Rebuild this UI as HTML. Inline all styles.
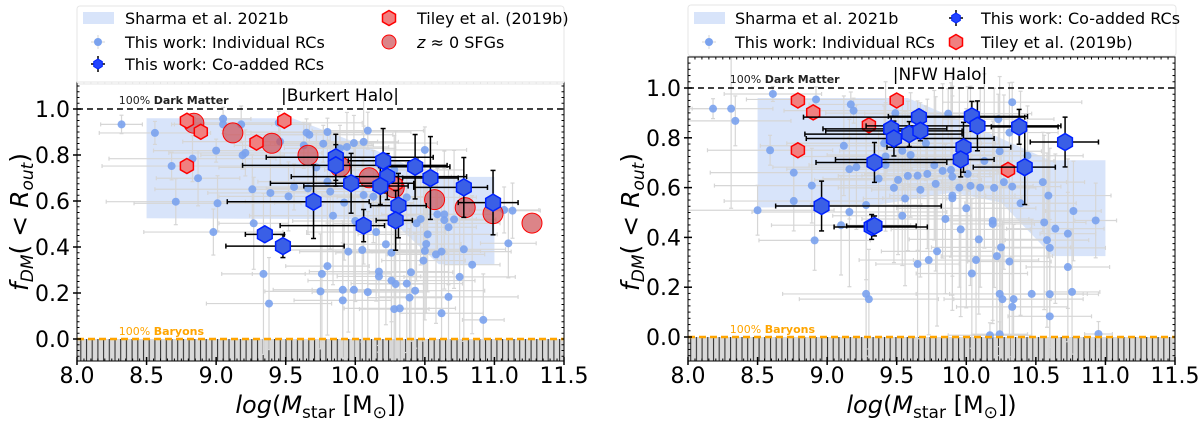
<!DOCTYPE html>
<html><head><meta charset="utf-8"><style>
html,body{margin:0;padding:0;background:#fff}
svg{display:block}
text{font-family:"DejaVu Sans","Liberation Sans",sans-serif}
</style></head><body>
<svg id="chart" width="1200" height="424" viewBox="0 0 1200 424" xmlns="http://www.w3.org/2000/svg">
<defs>
<pattern id="hatch" patternUnits="userSpaceOnUse" width="5.7" height="10"><rect width="5.7" height="10" fill="#d9d9d9"/><line x1="1" y1="0" x2="1" y2="10" stroke="#333" stroke-width="1.1"/></pattern>
<clipPath id="clipL"><rect x="77" y="82" width="487" height="280"/></clipPath>
<clipPath id="clipR"><rect x="688" y="57" width="488" height="305"/></clipPath>
</defs>
</svg>
<script>
// ---------- LEFT PANEL (Burkert) DATA ----------
const xTickLabels=["8.0","8.5","9.0","9.5","10.0","10.5","11.0","11.5"];
const yTickLabels=["0.0","0.2","0.4","0.6","0.8","1.0"];
const bandLX=[8.5,9.55,10.15,10.55,11.0,11.0,10.6,10.25,8.5];
const bandLY=[0.96,0.96,0.82,0.705,0.705,0.325,0.325,0.52,0.525];
const indLX=[8.32,8.56,8.68,8.83,8.87,8.71,9.00,9.05,9.05,9.18,9.19,9.21,9.26,9.01,8.98,9.27,9.39,9.52,9.56,9.65,9.67,9.63,9.77,9.80,9.72,9.66,9.80,9.82,9.89,9.94,9.99,10.06,10.09,9.92,9.84,10.0,10.06,10.13,10.15,10.22,10.26,10.05,9.95,9.80,9.76,9.34,9.75,9.91,9.91,9.99,10.09,9.38,10.17,10.17,10.26,10.29,10.37,10.40,10.43,10.39,10.28,10.32,10.62,10.67,10.75,10.84,10.92,11.10,10.78,10.58,10.62,10.50,10.49,10.51,10.52,10.59,10.64,10.67,10.71,10.64,10.47,10.44,10.37,10.50,11.07,11.13,10.28,10.29,9.46,9.45];
const indLY=[0.933,0.896,0.752,0.784,0.699,0.597,0.819,0.957,0.933,0.933,0.799,0.809,0.651,0.590,0.465,0.503,0.635,0.620,0.661,0.897,0.888,0.842,0.849,0.900,0.746,0.655,0.684,0.641,0.829,0.835,0.852,0.857,0.906,0.593,0.536,0.513,0.626,0.619,0.465,0.412,0.375,0.387,0.380,0.317,0.283,0.283,0.207,0.214,0.168,0.214,0.204,0.154,0.293,0.272,0.254,0.239,0.241,0.290,0.210,0.180,0.130,0.133,0.112,0.183,0.270,0.323,0.083,0.416,0.390,0.368,0.380,0.383,0.341,0.413,0.455,0.542,0.517,0.486,0.520,0.542,0.522,0.503,0.616,0.822,0.561,0.558,0.735,0.706,0.858,0.940];
const indLXerr=[0.15,0.4,0.5,0.6,0.3,0.5,0.45,0.2,0.35,0.5,0.3,0.55,0.7,0.6,0.5,0.25,0.45,0.5,0.3,0.4,0.6,0.5,0.35,0.6,0.7,0.3,0.5,0.45,0.4,0.3,0.6,0.25,0.4,0.5,0.6,0.45,0.3,0.4,0.5,0.3,0.4,0.6,0.35,0.3,0.5,0.3,0.4,0.5,0.35,0.3,0.4,0.45,0.5,0.3,0.6,0.2,0.4,0.3,0.5,0.3,0.25,0.4,0.3,0.5,0.4,0.2,0.15,0.2,0.3,0.35,0.5,0.4,0.3,0.25,0.5,0.4,0.3,0.2,0.3,0.35,0.4,0.6,0.5,0.3,0.25,0.2,0.5,0.4,0.7,0.6];
const indLYerr=[0.04,0.05,0.06,0.1,0.12,0.1,0.05,0.05,0.04,0.08,0.06,0.1,0.15,0.12,0.1,0.2,0.18,0.15,0.1,0.06,0.05,0.1,0.08,0.06,0.15,0.2,0.18,0.25,0.1,0.15,0.12,0.2,0.08,0.25,0.3,0.35,0.3,0.2,0.3,0.35,0.3,0.4,0.35,0.3,0.3,0.35,0.25,0.3,0.25,0.4,0.35,0.2,0.35,0.3,0.4,0.35,0.3,0.3,0.25,0.3,0.4,0.35,0.3,0.3,0.4,0.3,0.2,0.15,0.4,0.3,0.25,0.3,0.35,0.3,0.25,0.2,0.3,0.25,0.3,0.2,0.2,0.25,0.15,0.1,0.1,0.12,0.15,0.2,0.1,0.05];
const coLX=[9.35,9.48,9.70,9.86,9.86,9.97,10.06,10.20,10.23,10.18,10.31,10.29,10.43,10.54,10.78,10.99];
const coLY=[0.455,0.404,0.597,0.790,0.755,0.677,0.493,0.775,0.706,0.665,0.580,0.516,0.749,0.700,0.659,0.593];
const coLXlo=[0.14,0.41,0.62,0.5,0.67,0.58,0.6,0.25,0.69,0.55,0.2,0.14,0.2,0.2,0.36,0.25];
const coLXhi=[0.14,0.44,0.4,0.7,0.8,0.45,0.15,0.25,0.57,0.2,0.2,0.12,0.25,0.2,0.17,0.18];
const coLYerr=[0.03,0.05,0.16,0.1,0.09,0.13,0.07,0.14,0.1,0.08,0.14,0.13,0.14,0.18,0.13,0.14];
const tilLX=[8.79,8.89,9.29,9.49,8.79,10.29];
const tilLY=[0.949,0.901,0.854,0.949,0.752,0.674];
const sfgX=[8.84,9.12,9.40,9.66,9.89,10.10,10.28,10.57,10.79,10.99,11.27];
const sfgY=[0.938,0.896,0.851,0.799,0.749,0.701,0.658,0.606,0.571,0.545,0.504];
// ---------- RIGHT PANEL (NFW) DATA ----------
const bandRX=[8.5,9.58,10.0,10.6,11.0,11.0,10.62,10.25,9.9,9.3,8.5];
const bandRY=[0.96,0.96,0.86,0.71,0.71,0.325,0.325,0.54,0.58,0.525,0.52];
const indRX=[8.18,8.31,8.34,8.61,8.92,8.59,8.76,8.76,8.50,8.89,8.91,9.12,9.17,9.19,9.16,9.21,9.16,9.10,9.28,9.28,9.30,9.37,9.42,9.42,9.41,9.49,9.48,9.51,9.54,9.56,9.58,9.60,9.65,9.67,9.71,9.72,9.78,9.77,9.83,9.87,9.89,9.90,9.90,9.90,9.95,10.01,10.00,10.03,10.10,10.13,10.23,10.24,10.31,10.33,10.44,10.27,10.20,10.33,10.39,10.55,10.59,10.77,10.93,10.56,10.64,10.58,10.60,10.73,10.73,10.76,10.60,10.60,10.47,10.34,10.33,10.26,10.24,10.31,10.22,10.25,10.19,10.19,10.09,10.07,10.04,9.96,9.85,9.79,9.73,9.65,9.54,10.17,10.24,10.95];
const indRY=[0.917,0.917,0.868,0.976,0.954,0.750,0.660,0.546,0.509,0.608,0.388,0.768,0.934,0.909,0.674,0.682,0.502,0.449,0.530,0.173,0.152,0.636,0.691,0.725,0.778,0.899,0.599,0.631,0.748,0.556,0.647,0.731,0.648,0.591,0.778,0.655,0.615,0.690,0.667,0.897,0.671,0.644,0.568,0.557,0.600,0.655,0.517,0.607,0.600,0.707,0.875,0.746,0.821,0.943,0.728,0.622,0.599,0.604,0.537,0.622,0.568,0.506,0.468,0.460,0.435,0.389,0.358,0.415,0.281,0.181,0.172,0.083,0.173,0.152,0.121,0.152,0.173,0.303,0.325,0.360,0.467,0.454,0.392,0.309,0.255,0.432,0.474,0.344,0.309,0.293,0.487,0.007,0.011,0.012];
const indRXerr=[0.15,0.3,0.4,0.35,0.5,0.45,0.6,0.5,0.55,0.7,0.4,0.6,0.3,0.5,0.45,0.6,0.7,0.5,0.4,0.6,0.5,0.4,0.55,0.6,0.7,0.5,0.4,0.6,0.45,0.3,0.5,0.6,0.4,0.35,0.5,0.45,0.3,0.5,0.4,0.6,0.35,0.3,0.45,0.5,0.4,0.3,0.5,0.45,0.35,0.5,0.4,0.3,0.35,0.5,0.4,0.45,0.3,0.35,0.4,0.3,0.45,0.2,0.15,0.3,0.35,0.3,0.4,0.2,0.3,0.2,0.35,0.3,0.4,0.5,0.4,0.35,0.6,0.3,0.4,0.5,0.35,0.3,0.5,0.45,0.4,0.5,0.6,0.4,0.5,0.3,0.5,0.3,0.2,0.1];
const indRYerr=[0.04,0.4,0.1,0.03,0.05,0.06,0.1,0.12,0.1,0.15,0.12,0.2,0.05,0.05,0.2,0.25,0.3,0.2,0.3,0.25,0.2,0.2,0.25,0.3,0.15,0.05,0.3,0.3,0.2,0.35,0.3,0.25,0.3,0.35,0.15,0.3,0.35,0.3,0.35,0.1,0.35,0.4,0.4,0.45,0.4,0.35,0.4,0.4,0.4,0.35,0.1,0.3,0.2,0.08,0.2,0.35,0.4,0.35,0.45,0.2,0.25,0.2,0.15,0.35,0.3,0.35,0.4,0.3,0.3,0.25,0.3,0.2,0.3,0.3,0.2,0.3,0.3,0.4,0.4,0.4,0.4,0.4,0.3,0.3,0.3,0.35,0.3,0.3,0.3,0.3,0.2,0.05,0.05,0.05];
const coRX=[9.66,10.04,10.08,10.38,10.71,9.46,9.48,9.59,9.67,9.98,9.96,9.34,10.42,8.96,9.32,9.34];
const coRY=[0.883,0.886,0.848,0.844,0.783,0.836,0.797,0.815,0.828,0.762,0.713,0.701,0.682,0.526,0.442,0.446];
const coRXlo=[0.83,0.6,0.8,0.2,0.25,0.49,0.63,0.75,0.68,0.55,0.9,0.42,0.37,0.33,0.27,0.2];
const coRXhi=[0.76,0.4,0.6,0.28,0.24,0.4,0.72,0.38,0.3,0.34,0.24,0.52,0.22,0.86,0.4,0.3];
const coRYerr=[0.03,0.06,0.1,0.07,0.1,0.05,0.07,0.05,0.04,0.1,0.07,0.08,0.15,0.1,0.05,0.04];
const tilRX=[8.79,8.90,9.50,9.30,8.79,10.30];
const tilRY=[0.950,0.902,0.950,0.850,0.750,0.671];

const NS="http://www.w3.org/2000/svg";
const svg=document.getElementById('chart');
function mk(tag,attrs,parent){const e=document.createElementNS(NS,tag);for(const k in attrs)e.setAttribute(k,attrs[k]);(parent||svg).appendChild(e);return e;}
function hexPts(cx,cy,r){let p=[];for(let i=0;i<6;i++){const a=Math.PI/180*(60*i-90);p.push((cx+r*Math.cos(a)).toFixed(1)+','+(cy+r*Math.sin(a)).toFixed(1));}return p.join(' ');}

function panel(P){
  const sx=v=>P.x0+(v-8)/3.5*(P.x1-P.x0);
  const sy=v=>P.yZero-v*(P.yZero-P.yOne);
  const g=mk('g',{});
  
  
  const pg=mk('g',{'clip-path':'url(#'+P.clip+')'},g);
  // hatched baryon region
  const h=mk('rect',{x:P.x0,y:sy(0),width:P.x1-P.x0,height:P.bot-sy(0),fill:'url(#hatch)'},pg);
  
  
  // band
  const band=mk('polygon',{points:P.bx.map((v,i)=>sx(v)+','+sy(P.by[i])).join(' '),fill:'rgba(100,149,237,0.25)'},pg);
  
  
  // individual error bars
  const ie=mk('g',{stroke:'#d6d6d6','stroke-width':1.2},pg);
  P.ix.forEach((v,i)=>{
    const x=sx(v),y=sy(P.iy[i]),xl=sx(v-P.ixe[i]),xh=sx(v+P.ixe[i]),yl=sy(P.iy[i]-P.iye[i]),yh=sy(P.iy[i]+P.iye[i]);
    mk('line',{x1:xl,y1:y,x2:xh,y2:y},ie);mk('line',{x1:x,y1:yl,x2:x,y2:yh},ie);
    mk('line',{x1:xl,y1:y-2,x2:xl,y2:y+2},ie);mk('line',{x1:xh,y1:y-2,x2:xh,y2:y+2},ie);
    mk('line',{x1:x-2,y1:yl,x2:x+2,y2:yl},ie);mk('line',{x1:x-2,y1:yh,x2:x+2,y2:yh},ie);
  });
  P.ix.forEach((v,i)=>{
    const c=mk('circle',{cx:sx(v),cy:sy(P.iy[i]),r:4,fill:'#7aa2ee','fill-opacity':0.9},pg);
    
    
  });
  // lines
  const dm=mk('line',{x1:P.x0,y1:sy(1),x2:P.x1,y2:sy(1),stroke:'#000','stroke-width':1.6,'stroke-dasharray':'6,4'},g);
  
  
  // sfg circles
  if(P.sx){P.sx.forEach((v,i)=>{
    const c=mk('circle',{cx:sx(v),cy:sy(P.sy[i]),r:10,fill:'rgba(205,80,85,0.7)',stroke:'#f00','stroke-width':1},pg);
    
    
  });}
  // tiley hexes
  P.tx.forEach((v,i)=>{
    const c=mk('polygon',{points:hexPts(sx(v),sy(P.ty[i]),7.5),fill:'#f08080',stroke:'#f00','stroke-width':1.5},pg);
    
    
  });
  // coadded
  const ce=mk('g',{stroke:'#000','stroke-width':1.5},pg);
  P.cx.forEach((v,i)=>{
    const x=sx(v),y=sy(P.cy[i]),xl=sx(v-P.cxl[i]),xh=sx(v+P.cxh[i]),yl=sy(P.cy[i]-P.cye[i]),yh=sy(P.cy[i]+P.cye[i]);
    mk('line',{x1:xl,y1:y,x2:xh,y2:y},ce);mk('line',{x1:x,y1:yl,x2:x,y2:yh},ce);
    mk('line',{x1:xl,y1:y-2.5,x2:xl,y2:y+2.5},ce);mk('line',{x1:xh,y1:y-2.5,x2:xh,y2:y+2.5},ce);
    mk('line',{x1:x-2.5,y1:yl,x2:x+2.5,y2:yl},ce);mk('line',{x1:x-2.5,y1:yh,x2:x+2.5,y2:yh},ce);
  });
  P.cx.forEach((v,i)=>{
    const c=mk('polygon',{points:hexPts(sx(v),sy(P.cy[i]),8.5),fill:'#3a5fe6',stroke:'#0022ff','stroke-width':1.5},pg);
    
    
  });
  const bl=mk('line',{x1:P.x0,y1:sy(0),x2:P.x1,y2:sy(0),stroke:'#ffa500','stroke-width':2.5,'stroke-dasharray':'7,4'},g);
  
  
  // frame
  mk('rect',{x:P.x0,y:P.top,width:P.x1-P.x0,height:P.bot-P.top,fill:'none',stroke:'#000','stroke-width':1},g);
  // ticks
  const tg=mk('g',{stroke:'#000','stroke-width':1},g);
  for(let k=0;k<=70;k++){const v=8+k*0.05,x=sx(v);mk('line',{x1:x,y1:P.bot,x2:x,y2:P.bot-2.5},tg);mk('line',{x1:x,y1:P.top,x2:x,y2:P.top+2.5},tg);}
  for(let k=-4;k<=46;k++){const v=k*0.025,y=sy(v);if(y<P.top||y>P.bot)continue;mk('line',{x1:P.x0,y1:y,x2:P.x0+2.5,y2:y},tg);mk('line',{x1:P.x1,y1:y,x2:P.x1-2.5,y2:y},tg);}
  xTickLabels.forEach((l,i)=>{const x=sx(parseFloat(l));mk('line',{x1:x,y1:P.bot-4,x2:x,y2:P.bot+4,'stroke-width':1.5},tg);
    const t=mk('text',{x:x,y:383,'text-anchor':'middle','font-size':22,fill:'#000'},g);t.textContent=l;
    });
  yTickLabels.forEach(l=>{const y=sy(parseFloat(l));mk('line',{x1:P.x0-4,y1:y,x2:P.x0+4,y2:y,'stroke-width':1.5},tg);
    const t=mk('text',{x:P.x0-7,y:y+8,'text-anchor':'end','font-size':22,fill:'#000'},g);t.textContent=l;
    });
  // annotations
  const a1=mk('text',{x:sx(8.3),y:sy(1)-5,'font-size':11,fill:'#222'},g);
  a1.innerHTML='100% <tspan font-weight="bold">Dark Matter</tspan>';
  
  const a2=mk('text',{x:sx(8.3),y:sy(0)-4,'font-size':11,fill:'#ffa500'},g);
  a2.innerHTML='100% <tspan font-weight="bold">Baryons</tspan>';
  
  const tt=mk('text',{x:P.titleX,y:sy(1)-8,'text-anchor':'middle','font-size':17,fill:'#000'},g);
  tt.textContent=P.title;
  const xt=mk('text',{x:(P.x0+P.x1)/2,y:413,'text-anchor':'middle','font-size':24,fill:'#000'},g);
  xt.innerHTML='<tspan font-style="italic">log</tspan>(<tspan font-style="italic">M</tspan><tspan font-size="17" dy="5">star</tspan><tspan dy="-5"> [M</tspan><tspan font-size="17" dy="5">⊙</tspan><tspan dy="-5">])</tspan>';
  
  const yt=mk('text',{x:0,y:0,'text-anchor':'middle','font-size':25,fill:'#000',transform:'translate('+(P.x0-49)+',222) rotate(-90)'},g);
  yt.innerHTML='<tspan font-style="italic">f</tspan><tspan font-style="italic" font-size="17" dy="5">DM</tspan><tspan dy="-5">( &lt; </tspan><tspan font-style="italic">R</tspan><tspan font-style="italic" font-size="17" dy="5">out</tspan><tspan dy="-5">)</tspan>';
  
}
panel({name:'burkert',clip:'clipL',x0:77,x1:564,yZero:339,yOne:109,top:82,bot:361,titleX:340,title:'|Burkert Halo|',
  bx:bandLX,by:bandLY,ix:indLX,iy:indLY,ixe:indLXerr,iye:indLYerr,cx:coLX,cy:coLY,cxl:coLXlo,cxh:coLXhi,cye:coLYerr,tx:tilLX,ty:tilLY,sx:sfgX,sy:sfgY});
panel({name:'nfw',clip:'clipR',x0:688,x1:1175,yZero:337,yOne:88,top:57,bot:361,titleX:940,title:'|NFW Halo|',
  bx:bandRX,by:bandRY,ix:indRX,iy:indRY,ixe:indRXerr,iye:indRYerr,cx:coRX,cy:coRY,cxl:coRXlo,cxh:coRXhi,cye:coRYerr,tx:tilRX,ty:tilRY});

// legends
function legend(name,box,items){
  const g=mk('g',{});
  
  
  mk('rect',{x:box[0],y:box[1],width:box[2],height:box[3],fill:'#fff','fill-opacity':0.9,stroke:'#e6e6e6',rx:3},g);
  items.forEach(it=>{
    const [type,mx,tx,yb,label]=it;const cy=yb-6;
    if(type==='band')mk('rect',{x:mx-15,y:cy-6,width:31,height:12,fill:'rgba(100,149,237,0.25)'},g);
    if(type==='ind'){mk('line',{x1:mx-7,y1:cy,x2:mx+7,y2:cy,stroke:'#d6d6d6'},g);mk('line',{x1:mx,y1:cy-7,x2:mx,y2:cy+7,stroke:'#d6d6d6'},g);mk('circle',{cx:mx,cy:cy,r:4,fill:'#7aa2ee'},g);}
    if(type==='co'){mk('line',{x1:mx-7,y1:cy,x2:mx+7,y2:cy,stroke:'#000','stroke-width':1.5},g);mk('line',{x1:mx,y1:cy-8,x2:mx,y2:cy+8,stroke:'#000','stroke-width':1.5},g);mk('polygon',{points:hexPts(mx,cy,5),fill:'#2244ff',stroke:'#0022ff'},g);}
    if(type==='til')mk('polygon',{points:hexPts(mx,cy,7.5),fill:'#f08080',stroke:'#f00','stroke-width':1.5},g);
    if(type==='sfg')mk('circle',{cx:mx,cy:cy,r:7,fill:'rgba(205,80,85,0.7)',stroke:'#f00'},g);
    const t=mk('text',{x:tx,y:yb,'font-size':16,fill:'#000'},g);
    t.innerHTML=label;
    
    
  });
}
legend('legend-burkert',[77,6,487,78],[
 ['band',98,125,24,'Sharma et al. 2021b'],['ind',98,125,48,'This work: Individual RCs'],['co',98,125,70,'This work: Co-added RCs'],
 ['til',389,417,24,'Tiley et al. (2019b)'],['sfg',389,417,48,'<tspan font-style="italic">z</tspan> ≈ 0 SFGs']]);
legend('legend-nfw',[688,5,488,51],[
 ['band',709,735,24,'Sharma et al. 2021b'],['ind',709,735,48,'This work: Individual RCs'],
 ['co',956,981,24,'This work: Co-added RCs'],['til',956,981,48,'Tiley et al. (2019b)']]);
</script>
</body></html>
